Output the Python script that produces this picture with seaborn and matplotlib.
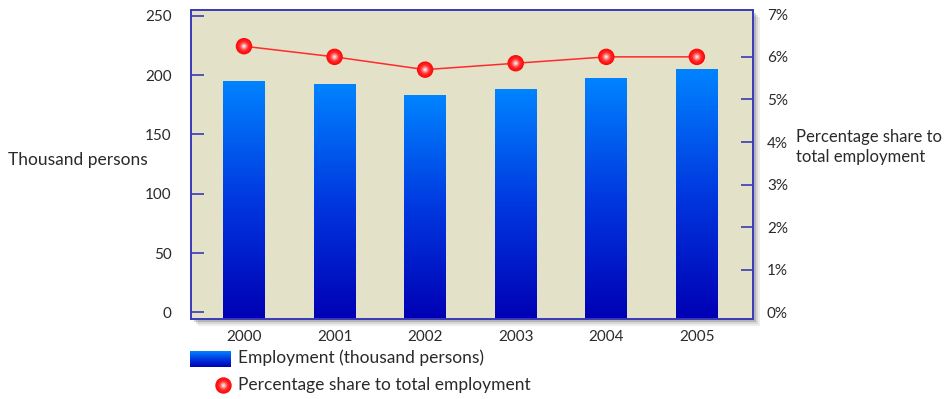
import numpy as np
import matplotlib
matplotlib.use("Agg")
import matplotlib.pyplot as plt
import matplotlib.patches as mpatches
from matplotlib.lines import Line2D
from matplotlib.colors import LinearSegmentedColormap
from matplotlib.ticker import FuncFormatter
import seaborn as sns

# donnees
years = ["2000", "2001", "2002", "2003", "2004", "2005"]
employment = [195.2, 192.7, 183.1, 187.9, 197.7, 205.3]   # milliers de personnes
share_pct = [6.25, 6.0, 5.7, 5.85, 6.0, 6.0]               # % de l'emploi total

sns.set_theme(style="white")
plt.rcParams["font.family"] = ["Lato", "DejaVu Sans"]

BG = "#e3e2c9"
SPINE = "#3a3ab8"
TXT = "#2a2a2a"
blue_cmap = LinearSegmentedColormap.from_list("bleu", ["#0000b4", "#0038e0", "#0084ff"])
red_cmap = LinearSegmentedColormap.from_list("rouge", ["#ff0a0a", "#ff3030", "#ff9090", "#fff0f0"])

fig = plt.figure(figsize=(9.46, 3.99), dpi=100)
W, H = 946, 399
x0, x1, y0, y1 = 191, 753, 319, 10
ax = fig.add_axes([x0 / W, 1 - y0 / H, (x1 - x0) / W, (y0 - y1) / H])
ax.set_zorder(2)

# ombre portee du cadre (derriere les axes)
for off, a in [(7, 0.10), (5, 0.15), (3, 0.25)]:
    fig.patches.append(mpatches.Rectangle(
        ((x0 + off) / W, 1 - (y0 + off) / H), (x1 - x0) / W, (y0 - y1) / H,
        transform=fig.transFigure, facecolor="#555555", alpha=a, edgecolor="none", zorder=-5))

ax.set_facecolor(BG)
sns.barplot(x=years, y=employment, width=0.46, ax=ax, color="#0050f0", saturation=1)

Y_LO, Y_HI = -5.5, 254.8
# degrade vertical dans chaque barre (prolongee jusqu'au bas du cadre)
grad = np.linspace(0, 1, 256).reshape(-1, 1)
for p in ax.patches:
    top = p.get_y() + p.get_height()
    p.set_y(Y_LO)
    p.set_height(top - Y_LO)
    bx, bw = p.get_x(), p.get_width()
    im = ax.imshow(grad, cmap=blue_cmap, origin="lower", aspect="auto",
                   extent=[bx, bx + bw, Y_LO, top], zorder=2)
    im.set_clip_path(p)
    p.set_facecolor("none")
    p.set_edgecolor("none")

ax.set_xlim(-0.585, 5.62)
ax.set_ylim(Y_LO, Y_HI)
ax.set_yticks([0, 50, 100, 150, 200, 250])
ax.set_xlabel("")
ax.set_ylabel("")
for s in ax.spines.values():
    s.set_color(SPINE)
    s.set_linewidth(1.2)
ax.tick_params(axis="y", direction="in", length=9, width=1.2, color=SPINE,
               labelsize=11, labelcolor=TXT, pad=14, left=True)
ax.tick_params(axis="x", length=0, labelsize=11, labelcolor=TXT, pad=8)
# pas de trait aux extremites (0 et 250)
for tk in (ax.yaxis.get_major_ticks()[0], ax.yaxis.get_major_ticks()[-1]):
    tk.tick1line.set_visible(False)

ax2 = ax.twinx()
ax2.set_zorder(3)
sns.lineplot(x=years, y=share_pct, ax=ax2, color="#ff2a2a", linewidth=1.1, zorder=3)
# boules rouges : couches concentriques pour simuler le degrade radial
layers = np.linspace(0, 1, 12)
for i, t in enumerate(layers):
    size = 140 * (1 - 0.92 * t) ** 2
    ax2.scatter(years, share_pct, s=size, color=red_cmap(t ** 1.4), edgecolor="none", zorder=4 + i)
ax2.set_ylim(-0.153, 7.10)
ax2.set_yticks(range(0, 8))
ax2.yaxis.set_major_formatter(FuncFormatter(lambda v, _: f"{v:.0f}%"))
ax2.set_ylabel("")
for s in ax2.spines.values():
    s.set_color(SPINE)
    s.set_linewidth(1.2)
ax2.tick_params(axis="y", direction="in", length=9, width=1.2, color=SPINE,
                labelsize=11, labelcolor=TXT, pad=10, right=True)
for tk in (ax2.yaxis.get_major_ticks()[0], ax2.yaxis.get_major_ticks()[-1]):
    tk.tick2line.set_visible(False)
ax2.set_xlim(-0.585, 5.62)

fig.text(8 / W, 1 - 160 / H, "Thousand persons", fontsize=12.5, color=TXT, va="center", ha="left")
fig.text(796 / W, 1 - 147 / H, "Percentage share to\ntotal employment", fontsize=12,
         color=TXT, va="center", ha="left", linespacing=1.25)

# legende
lax = fig.add_axes([190 / W, 1 - 367 / H, 41 / W, 16 / H])
lax.imshow(grad, cmap=blue_cmap, origin="lower", aspect="auto", extent=[0, 1, 0, 1])
lax.set_axis_off()
fig.text(238 / W, 1 - 358 / H, "Employment (thousand persons)", fontsize=12.5, color=TXT, va="center")
lx, ly = 223 / W, 1 - 385 / H
for t in layers:
    ms = 11.8 * (1 - 0.92 * t)
    fig.add_artist(Line2D([lx], [ly], marker="o", markersize=ms, color=red_cmap(t ** 1.4),
                          markeredgewidth=0, linestyle="none", transform=fig.transFigure))
fig.text(238 / W, 1 - 385 / H, "Percentage share to total employment", fontsize=12.5, color=TXT, va="center")

fig.savefig("out.png", dpi=100, facecolor="white")
